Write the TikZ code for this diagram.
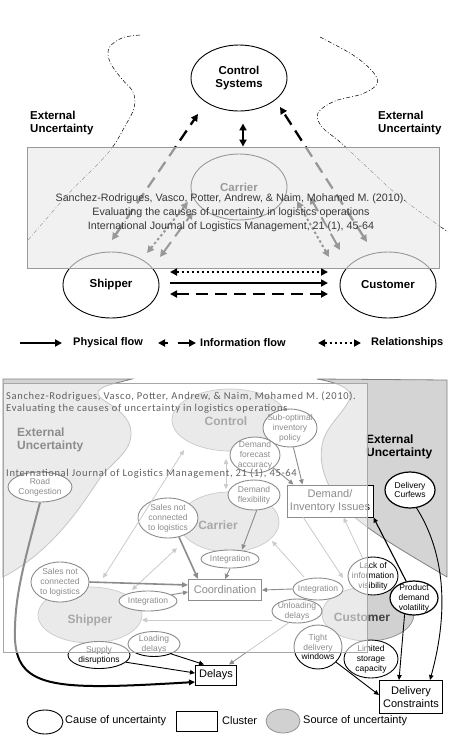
\documentclass[tikz,border=0pt]{standalone}
\usepackage{fontspec}
\setmainfont{Liberation Sans}
\newfontfamily\citfont{Carlito}[LetterSpace=6.5]
\usetikzlibrary{arrows.meta,shapes.geometric}
\tikzset{
  big/.style={ellipse, draw, line width=0.9pt, minimum width=96pt, minimum height=66pt, inner sep=0pt, align=center, font=\fontsize{11.5}{13}\selectfont\bfseries},
  ddot/.style={line width=0.5pt, dash pattern=on 4pt off 2pt on 1pt off 2pt},
  tip/.style={-{Triangle[length=7pt,width=7pt]}},
  tip2/.style={{Triangle[length=7pt,width=7pt]}-{Triangle[length=7pt,width=7pt]}},
  fat/.style={line width=2.3pt},
  dsh/.style={dash pattern=on 12pt off 7pt},
  dts/.style={dash pattern=on 2.5pt off 2.5pt},
  ext/.style={anchor=west, align=left, inner sep=0pt, font=\fontsize{11.5}{13}\selectfont\bfseries},
  lgtext/.style={anchor=west, inner sep=0pt, font=\fontsize{11}{13}\selectfont\bfseries},
  cittop/.style={align=center, inner sep=0pt, text=black!78, font=\fontsize{10.7}{14}\selectfont},
  citbot/.style={anchor=west, align=left, inner sep=0pt, text=black!62, font=\citfont\fontsize{10.5}{12}\selectfont},
  cause/.style={ellipse, draw, line width=0.9pt, fill=white, inner sep=0pt, label={[ctext]center:#1}},
  ctext/.style={font=\fontsize{8.5}{9.8}\selectfont, align=center, inner sep=0pt},
  src/.style={ellipse, draw=black!45, fill=black!18, line width=0.7pt, inner sep=0pt},
  srctext/.style={inner sep=0pt, text=black!75, font=\fontsize{12}{14}\selectfont\bfseries},
  extfill/.style={fill=black!17, draw=black!50, line width=0.8pt},
  cluster/.style={draw, line width=1pt, fill=white, inner sep=0pt, align=center, font=\fontsize{11}{12.5}\selectfont},
  dk/.style={line width=0.9pt, -{Triangle[length=5pt,width=4.5pt]}},
  dkk/.style={line width=1.6pt, -{Triangle[length=6pt,width=5pt]}},
  lt/.style={line width=0.8pt, draw=black!45, -{Triangle[length=5pt,width=4.5pt]}},
  lt2/.style={line width=0.8pt, draw=black!45, {Triangle[length=5pt,width=4.5pt]}-{Triangle[length=5pt,width=4.5pt]}},
  btext/.style={anchor=west, inner sep=0pt, font=\fontsize{11}{13}\selectfont},
}
\begin{document}
\begin{tikzpicture}[x=1pt,y=-1pt]
\useasboundingbox (0,0) rectangle (450,740);
\fill[white] (0,0) rectangle (450,740);

% ================= TOP DIAGRAM =================
\draw[ddot] plot[smooth, tension=0.6] coordinates {(140,35) (122,38) (109,48) (110,62) (121,78) (133,92) (134,108) (124,128) (112,148) (96,166) (70,192) (28,240)};
\draw[ddot] plot[smooth, tension=0.6] coordinates {(320,37) (353,55) (373,72) (377,84) (362,94) (335,101) (318,113) (322,127) (340,142) (368,168) (400,197) (448,232)};

\node[big] (ctl) at (239,78) {Control\\Systems};
\node[big] (car) at (239,187) {Carrier};
\node[big] (shp) at (111,285) {Shipper};
\node[big] (cst) at (388,285) {Customer};

\node[ext] (ext1) at (30,123) {External\\Uncertainty};
\node[ext] (ext2) at (378,123) {External\\Uncertainty};

\coordinate (a1) at (112,240); \coordinate (a2) at (198,114);
\coordinate (a3) at (367,242); \coordinate (a4) at (280,107);
\coordinate (a5) at (147,253); \coordinate (a6) at (188,202);
\coordinate (a7) at (160,257); \coordinate (a8) at (193,212);
\coordinate (a9) at (329,257); \coordinate (a10) at (297,201);
\coordinate (a11) at (340,250); \coordinate (a12) at (310,197);

\draw[fat, dsh, tip2] (a1) -- (a2);
\draw[fat, dsh, tip2] (a3) -- (a4);
\draw[line width=2pt, dts, tip2] (a5) -- (a6);
\draw[line width=2pt, dsh, tip2] (a7) -- (a8);
\draw[line width=2pt, dts, tip2] (a9) -- (a10);
\draw[line width=2pt, dsh, tip2] (a11) -- (a12);
\draw[fat, tip2] ([xshift=4pt,yshift=-12pt]ctl.south) -- ([xshift=4pt,yshift=7pt]car.north);

% grey citation panel
\fill[black!8, fill opacity=0.65] (27,147) rectangle (439,268);
\draw[black!40, line width=0.7pt] (27,147) rectangle (439,268);
\node[cittop] (cit1) at (231,213) {Sanchez-Rodrigues, Vasco, Potter, Andrew, \& Naim, Mohamed M. (2010).\\Evaluating the causes of uncertainty in logistics operations\\International Journal of Logistics Management, 21 (1), 45-64};

\coordinate (b1) at (170,272); \coordinate (b2) at (328,272);
\coordinate (b3) at (170,283); \coordinate (b4) at (328,283);
\coordinate (b5) at (170,294); \coordinate (b6) at (328,294);
\draw[fat, dts, tip2] (b1) -- (b2);
\draw[fat, tip] (b3) -- (b4);
\draw[fat, dsh, tip2] (b5) -- (b6);

% top legend
\coordinate (l1) at (20,343); \coordinate (l2) at (62,343);
\draw[fat, tip] (l1) -- (l2);
\node[lgtext] (lt1) at (73,343) {Physical flow};
\coordinate (l3) at (158,343); \coordinate (l4) at (196,343);
\draw[fat, dash pattern=on 3pt off 10pt on 30pt, tip2] (l3) -- (l4);
\node[lgtext] (lt2) at (200,343) {Information flow};
\coordinate (l5) at (318,343); \coordinate (l6) at (361,343);
\draw[fat, dts, tip2] (l5) -- (l6);
\node[lgtext] (lt3) at (371,343) {Relationships};

% ================= BOTTOM DIAGRAM =================
\filldraw[extfill] (3,379) -- (132,379) .. controls (118,383) and (96,386) .. (98,394) .. controls (100,402) and (130,410) .. (131,432) .. controls (132,452) and (112,462) .. (100,478) .. controls (85,500) and (55,550) .. (3,577) -- cycle;
\filldraw[extfill] (317,379) -- (447,380) -- (447,577) .. controls (410,555) and (375,535) .. (352,515) .. controls (330,495) and (318,470) .. (322,445) .. controls (326,425) and (345,412) .. (350,398) .. controls (353,388) and (335,382) .. (317,379) -- cycle;

\node[src, minimum width=116pt, minimum height=62pt] (sctl) at (230,420) {};
\node[src, minimum width=100pt, minimum height=60pt] (scar) at (229,522) {};
\node[src, minimum width=104pt, minimum height=56pt] (sshp) at (90,615) {};
\node[src, minimum width=92pt, minimum height=54pt] (scst) at (368,614) {};
\node[srctext] (tctl) at (226,421) {Control};
\node[srctext] (tcar) at (218,525) {Carrier};
\node[srctext] (tshp) at (90,620) {Shipper};
\node[srctext] (tcst) at (362,617) {Customer};

\node[ext, font=\fontsize{12}{13.5}\selectfont\bfseries] (ext3) at (17,440) {External\\Uncertainty};
\node[ext, font=\fontsize{12}{13.5}\selectfont\bfseries] (ext4) at (366,447) {External\\Uncertainty};

% clusters
\node[cluster, minimum width=86pt, minimum height=32pt] (dem) at (330,501) {Demand/\\Inventory Issues};
\node[cluster, minimum width=73pt, minimum height=21pt] (coo) at (225,590) {Coordination};
\node[cluster, minimum width=41pt, minimum height=20pt] (dly) at (216,675) {Delays};
\node[cluster, minimum width=63pt, minimum height=33pt] (dcn) at (411,697) {Delivery\\Constraints};

% causes
\node[cause={Road\\Congestion}, minimum width=64pt, minimum height=30pt] (road) at (40,487) {};
\node[cause={Sub-optimal\\inventory\\policy}, minimum width=54pt, minimum height=38pt] (sub) at (290,428) {};
\node[cause={Demand\\forecast\\accuracy}, minimum width=50pt, minimum height=36pt] (dfa) at (255,455) {};
\node[cause={Demand\\flexibility}, minimum width=52pt, minimum height=30pt] (dfl) at (254,495) {};
\node[cause={Sales not\\connected\\to logistics}, minimum width=60pt, minimum height=40pt] (snc1) at (168,518) {};
\node[cause={Integration}, minimum width=58pt, minimum height=18pt] (intc) at (230,559) {};
\node[cause={Sales not\\connected\\to logistics}, minimum width=58pt, minimum height=40pt] (snc2) at (60,582) {};
\node[cause={Integration}, minimum width=58pt, minimum height=20pt] (ints) at (148,601) {};
\node[cause={Integration}, minimum width=50pt, minimum height=22pt] (intu) at (318,589) {};
\node[cause={Lack of\\information\\visibility}, minimum width=50pt, minimum height=38pt] (lack) at (373,576) {};
\node[cause={Product\\demand\\volatility}, line width=1.2pt, minimum width=48pt, minimum height=34pt] (pdv) at (414,598) {};
\node[cause={Unloading\\delays}, minimum width=50pt, minimum height=24pt] (unl) at (297,611) {};
\node[cause={Loading\\delays}, minimum width=52pt, minimum height=25pt] (lod) at (154,644) {};
\node[cause={Supply\\disruptions}, minimum width=62pt, minimum height=27pt] (sup) at (99,655) {};
\node[cause={Limited\\storage\\capacity}, minimum width=54pt, minimum height=38pt] (lim) at (371,659) {};
\node[cause={Tight\\delivery\\windows}, minimum width=48pt, minimum height=44pt] (tig) at (318,647) {};
\node[cause={Delivery\\Curfews}, line width=1.2pt, minimum width=50pt, minimum height=36pt] (cur) at (410,490) {};

% light connectors
\coordinate (c1) at (226,459); \coordinate (c2) at (226,489);
\draw[lt2] (c1) -- (c2);
\coordinate (c3) at (103,578); \coordinate (c4) at (184,450);
\draw[lt2] (c3) -- (c4);
\coordinate (c5) at (132,590); \coordinate (c6) at (177,548);
\draw[lt2] (c5) -- (c6);
\coordinate (c7) at (304,577); \coordinate (c8) at (272,541);
\draw[lt] (c7) -- (c8);
\coordinate (c9) at (303,517); \coordinate (c10) at (343,578);
\draw[lt] (c9) -- (c10);
\coordinate (c11) at (272,620); \coordinate (c12) at (142,620);
\draw[lt] (c11) -- (c12);
\draw[lt] (lack.120) -- ([xshift=-30pt]dem.south east);
\draw[lt] (unl.-125) -- ([xshift=-8pt]dly.north east);

% dark connectors
\draw[dk] (sub.-80) -- ([xshift=16pt]dem.north west);
\draw[dk] (dfa.-35) -- ([xshift=7pt]dem.north west);
\draw[dk] (dfl.-80) -- ([xshift=12pt]intc.north);
\draw[dk] (intc.south) -- (coo.north);
\draw[dkk] (snc1.-60) -- ([xshift=-27pt]coo.north);
\draw[dkk] (snc2.east) -- ([yshift=5pt]coo.west);
\draw[dk] (ints.15) -- ([yshift=-2pt]coo.west);
\draw[dk] (intu.west) -- (coo.east);
\draw[dk, line width=1.1pt] (pdv.115) -- (dem.south east);
\draw[dk] (sup.-15) -- ([yshift=2pt]dly.west);
\draw[dk] (lod.-30) -- ([xshift=9pt]dly.north west);
\draw[dk] (tig.-40) -- ([yshift=2pt]dcn.west);
\draw[dk] (pdv.-120) -- ([xshift=20pt]dcn.north west);
\draw[dk] (cur.-70) .. controls (440,545) and (452,600) .. ([xshift=-13pt]dcn.north east);
\draw[line width=2pt, -{Triangle[length=6pt,width=5.5pt]}] (road.south) .. controls (22,570) and (14,600) .. (15,640) .. controls (18,690) and (60,690) .. ([yshift=-7pt]dly.west);

% white citation overlay
\fill[white, fill opacity=0.55] (3,383) rectangle (367,652);
\draw[black!35, line width=0.8pt] (3,383) rectangle (367,652);
\node[citbot] (cb1) at (6,403) {Sanchez-Rodrigues, Vasco, Potter, Andrew, \& Naim, Mohamed M. (2010).\\Evaluating the causes of uncertainty in logistics operations};
\node[citbot] (cb2) at (6,474) {International Journal of Logistics Management, 21 (1), 45-64};

% bottom legend
\node[ellipse, draw, line width=0.9pt, minimum width=36pt, minimum height=24pt, inner sep=0pt] (lg1) at (45,722) {};
\node[btext] (lg1t) at (65,721) {Cause of uncertainty};
\node[draw, line width=0.9pt, minimum width=41pt, minimum height=20pt, inner sep=0pt] (lg2) at (197,721) {};
\node[btext] (lg2t) at (222,721) {Cluster};
\node[src, minimum width=34pt, minimum height=24pt] (lg3) at (283,721) {};
\node[btext] (lg3t) at (303,721) {Source of uncertainty};
\end{tikzpicture}
\end{document}
